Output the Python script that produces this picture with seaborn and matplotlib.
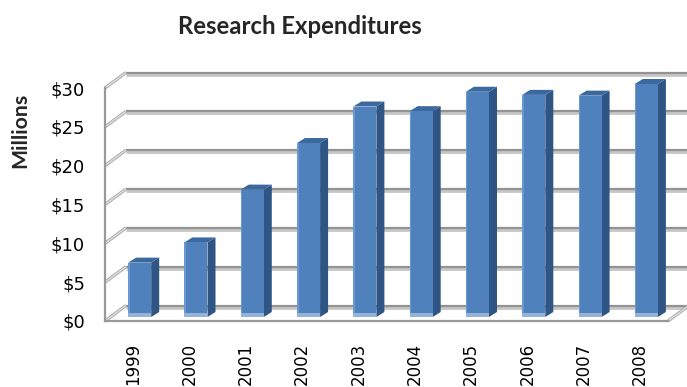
import numpy as np
import matplotlib
matplotlib.use("Agg")
import matplotlib.pyplot as plt
import seaborn as sns
from matplotlib.transforms import ScaledTranslation
from matplotlib.patches import Polygon, Rectangle

# Annual research expenditures, in millions of dollars
years = ["1999", "2000", "2001", "2002", "2003", "2004", "2005", "2006", "2007", "2008"]
spending = [7.0, 9.6, 16.4, 22.4, 27.1, 26.5, 29.0, 28.6, 28.5, 30.0]
y_ticks = [0, 5, 10, 15, 20, 25, 30]
y_tick_labels = ["$0", "$5", "$10", "$15", "$20", "$25", "$30"]

FRONT = "#4F81BD"
SIDE = "#2F5584"
TOP = "#3B689F"
BAND = "#95B3D7"
GRID = "#939393"
GRID_LIGHT = "#C6C6C6"
AXIS = "#999999"

sns.set_style("white")
plt.rcParams["font.family"] = ["DejaVu Sans"]

W, H, DPI = 687, 387, 100
fig = plt.figure(figsize=(W / DPI, H / DPI), dpi=DPI)
ax_l, ax_b, ax_w, ax_h = 105, 66, 563, 233          # front plane of the plot, in pixels
ax = fig.add_axes([ax_l / W, ax_b / H, ax_w / W, ax_h / H])

sns.barplot(x=years, y=spending, color=FRONT, width=0.41, saturation=1,
            errorbar=None, linewidth=0, ax=ax, zorder=4)
ax.set_xlim(-0.5, len(years) - 0.5)
ax.set_ylim(0, 30)

# pixel <-> data conversions for the oblique depth effect
px_x = ax_w / len(years)
px_y = ax_h / 30.0

def shift(dx_px, dy_px):
    return ax.transData + ScaledTranslation(dx_px / DPI, dy_px / DPI, fig.dpi_scale_trans)

# back wall gridlines and the connectors to the front value axis
wall_dx, wall_dy = 21, 15.5
back_tr = shift(wall_dx, wall_dy)
x0, x1 = -0.5, len(years) - 0.5

def connector(x, y):
    xs = [x, x + wall_dx / px_x]
    ys = [y, y + wall_dy / px_y]
    ax.plot(xs, ys, color="#A8A8A8", lw=3.2 * 0.72, clip_on=False, zorder=1.2,
            solid_capstyle="butt")
    ax.plot(xs, ys, color="#E2E2E2", lw=1.3 * 0.72, clip_on=False, zorder=1.3,
            solid_capstyle="butt")

for k in y_ticks:
    ax.plot([x0, x1], [k, k], color=GRID_LIGHT, lw=4.8 * 0.72, transform=shift(wall_dx, wall_dy - 1),
            solid_capstyle="butt", clip_on=False, zorder=1)
    ax.plot([x0, x1], [k, k], color=GRID, lw=2.2 * 0.72, transform=back_tr,
            solid_capstyle="butt", clip_on=False, zorder=1.1)
    connector(x0, k)
connector(x1, 0)      # right edge of the floor

# columns: move them into the middle of the depth and add side / top faces
bar_tr = shift(6.5, 4)
dep_x, dep_y = 8 / px_x, 5 / px_y
for patch, v in zip(ax.patches, spending):
    patch.set_transform(bar_tr)
    patch.set_clip_on(False)
    bx0 = patch.get_x()
    bw = patch.get_width()
    bx1 = bx0 + bw
    side = Polygon([(bx1, 0), (bx1 + dep_x, dep_y), (bx1 + dep_x, v + dep_y), (bx1, v)],
                   closed=True, facecolor=SIDE, edgecolor="none", transform=bar_tr,
                   clip_on=False, zorder=3.5)
    top = Polygon([(bx0, v), (bx0 + dep_x, v + dep_y), (bx1 + dep_x, v + dep_y), (bx1, v)],
                  closed=True, facecolor=TOP, edgecolor="none", transform=bar_tr,
                  clip_on=False, zorder=3.6)
    band = Rectangle((bx0, 0), bw, 4 / px_y, facecolor=BAND, edgecolor="none",
                     transform=bar_tr, clip_on=False, zorder=4.2)
    edge = Rectangle((bx0, 4 / px_y), 1.5 / px_x, v - 4 / px_y, facecolor="#6A98D0",
                     edgecolor="none", transform=bar_tr, clip_on=False, zorder=4.3)
    for p in (side, top, band, edge):
        ax.add_patch(p)

# front axes
for s in ("top", "right"):
    ax.spines[s].set_visible(False)
for s in ("left", "bottom"):
    ax.spines[s].set_color(AXIS)
    ax.spines[s].set_linewidth(2.2 * 0.72)
    ax.spines[s].set_zorder(5)

ax.set_yticks(y_ticks)
ax.set_yticklabels(y_tick_labels)
ax.tick_params(axis="y", length=8 * 0.72, width=1.5 * 0.72, color=AXIS, pad=12 * 0.72,
               labelsize=13, labelcolor="black")
ax.set_xticks(range(len(years)))
ax.set_xticklabels(years, rotation=90)
ax.tick_params(axis="x", which="major", length=0, pad=22 * 0.72, labelsize=12,
               labelcolor="black")
ax.set_xticks(np.arange(-0.5, len(years), 1), minor=True)
ax.tick_params(axis="x", which="minor", length=8 * 0.72, width=1.5 * 0.72, color=AXIS)
ax.set_xlabel("")
ax.set_ylabel("")
ax.patch.set_alpha(0)

title = fig.text(300 / W, 1 - 26 / H, "Research Expenditures", ha="center", va="center",
                 fontsize=16, fontweight="bold", family=["Lato", "DejaVu Sans"])
unit = fig.text(20 / W, 1 - 130 / H, "Millions", ha="center", va="center", rotation=90,
                fontsize=12.5, fontweight="bold", family=["Lato", "DejaVu Sans"])

# size the heading texts to their intended pixel extents
renderer = fig.canvas.get_renderer()
for txt, target, use_height in ((title, 245, False), (unit, 75, True)):
    bb = txt.get_window_extent(renderer)
    span = bb.height if use_height else bb.width
    txt.set_fontsize(txt.get_fontsize() * target / span)

fig.savefig("out.png", dpi=DPI)
